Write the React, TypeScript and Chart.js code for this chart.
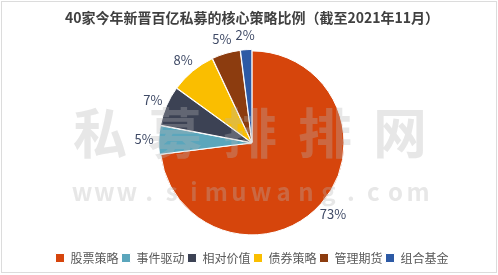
import React, { useEffect, useRef } from "react";
import { Chart, registerables } from "chart.js";

Chart.register(...registerables);

const titleText = "40家今年新晋百亿私募的核心策略比例（截至2021年11月）";
const categories = ["股票策略", "事件驱动", "相对价值", "债券策略", "管理期货", "组合基金"];
const shares = [73, 5, 7, 8, 5, 2];
const colors = ["#D6450C", "#5BA6BC", "#3C4254", "#FABE00", "#8C3C0F", "#2D5AA5"];
const offsets = [0, 3, 3, 3, 3, 3];
const watermarkMain = "私募排排网";
const watermarkSub = "www.simuwang.com";

const FONT = "'Noto Sans CJK SC', 'Noto Sans', sans-serif";

const framePlugin = {
  id: "frame",
  beforeDraw(chart: any) {
    const ctx = chart.ctx;
    ctx.save();
    ctx.fillStyle = "#ffffff";
    ctx.fillRect(0, 0, chart.width, chart.height);
    ctx.strokeStyle = "#dcdcdc";
    ctx.lineWidth = 1;
    ctx.strokeRect(1.5, 1.5, chart.width - 3, chart.height - 4);
    ctx.restore();
  },
};

const labelPlugin = {
  id: "outerLabels",
  afterDatasetsDraw(chart: any) {
    const ctx = chart.ctx;
    const meta = chart.getDatasetMeta(0);
    const data = chart.data.datasets[0].data;
    ctx.save();
    // watermark
    ctx.fillStyle = "rgba(180,180,180,0.32)";
    ctx.textAlign = "center";
    ctx.textBaseline = "middle";
    ctx.font = "bold 54px " + FONT;
    const mainChars = Array.from(watermarkMain);
    const mStart = 100, mStep = 75;
    mainChars.forEach((ch, i) => ctx.fillText(ch, mStart + i * mStep, 133));
    ctx.font = "bold 24px " + FONT;
    const subChars = Array.from(watermarkSub);
    const sStart = 82, sStep = (418 - 82) / (subChars.length - 1);
    subChars.forEach((ch, i) => ctx.fillText(ch, sStart + i * sStep, 192));
    // labels
    ctx.fillStyle = "#3F4A66";
    ctx.font = "13px " + FONT;
    meta.data.forEach((arc: any, i: number) => {
      const p = arc.getProps(["x", "y", "startAngle", "endAngle", "outerRadius"], true);
      const mid = (p.startAngle + p.endAngle) / 2;
      const r = p.outerRadius + 16;
      ctx.fillText(data[i] + "%", p.x + Math.cos(mid) * r, p.y + Math.sin(mid) * r);
    });
    ctx.restore();
  },
};

export default function App() {
  const ref = useRef<HTMLCanvasElement>(null);
  useEffect(() => {
    document.body.style.margin = "0";
    const chart = new Chart(ref.current as HTMLCanvasElement, {
      type: "pie",
      data: {
        labels: categories,
        datasets: [
          {
            data: shares,
            backgroundColor: colors,
            borderColor: "#ffffff",
            borderWidth: 1,
            offset: offsets,
          },
        ],
      },
      options: {
        animation: false,
        responsive: false,
        radius: 92,
        layout: { padding: { left: 6, right: 0, top: 0, bottom: 1 } },
        plugins: {
          title: {
            display: true,
            text: titleText,
            color: "#404040",
            font: { family: FONT, size: 14, weight: "bold" },
            padding: { top: 9, bottom: 11 },
          },
          legend: {
            position: "bottom",
            labels: {
              color: "#595959",
              font: { family: FONT, size: 12 },
              boxWidth: 9,
              boxHeight: 9,
              padding: 3,
            },
          },
          tooltip: { enabled: false },
        },
      } as any,
      plugins: [framePlugin, labelPlugin],
    });
    return () => chart.destroy();
  }, []);
  return (
    <div style={{ width: 498, height: 275 }}>
      <canvas ref={ref} width={498} height={275} style={{ display: "block" }} />
    </div>
  );
}
